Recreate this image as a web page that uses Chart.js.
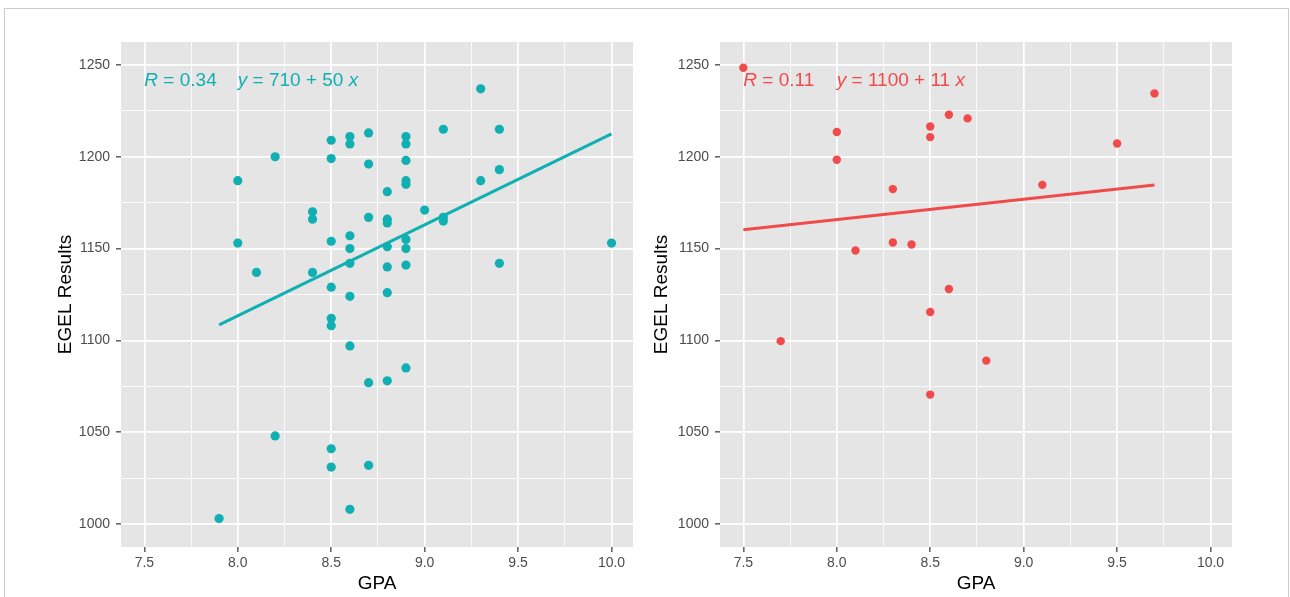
<!DOCTYPE html>
<html>
<head>
<meta charset="utf-8">
<title>GPA vs EGEL</title>
<script src="https://cdn.jsdelivr.net/npm/chart.js@4.4.1/dist/chart.umd.min.js"></script>
<style>
  html, body { margin: 0; padding: 0; background: #fff; }
  #page { position: relative; width: 1290px; height: 597px; overflow: hidden; }
  #frame { position: absolute; left: 4px; top: 8px; width: 1285px; height: 640px; border: 1px solid #cccccc; box-sizing: border-box; }
  .panel { position: absolute; top: 0; width: 645px; height: 597px; }
</style>
</head>
<body>
<div id="page">
  <div id="frame"></div>
  <div class="panel" style="left:0"><canvas id="chartLeft" width="645" height="597"></canvas></div>
  <div class="panel" style="left:645px"><canvas id="chartRight" width="645" height="597"></canvas></div>
</div>
<script>
// axis breaks
const xMajor = [7.5, 8.0, 8.5, 9.0, 9.5, 10.0];
const xMinor = [7.75, 8.25, 8.75, 9.25, 9.75];
const yMajor = [1000, 1050, 1100, 1150, 1200, 1250];
const yMinor = [1025, 1075, 1125, 1175, 1225];

// left panel (teal)
const leftGpa = [
  7.9,
  8.0, 8.0,
  8.1,
  8.2, 8.2,
  8.4, 8.4, 8.4,
  8.5, 8.5, 8.5, 8.5, 8.5, 8.5, 8.5, 8.5,
  8.6, 8.6, 8.6, 8.6, 8.6, 8.6, 8.6, 8.6,
  8.7, 8.7, 8.7, 8.7, 8.7,
  8.8, 8.8, 8.8, 8.8, 8.8, 8.8, 8.8,
  8.9, 8.9, 8.9, 8.9, 8.9, 8.9, 8.9, 8.9, 8.9,
  9.0,
  9.1, 9.1, 9.1,
  9.3, 9.3,
  9.4, 9.4, 9.4,
  10.0
];
const leftEgel = [
  1003,
  1187, 1153,
  1137,
  1200, 1048,
  1170, 1166, 1137,
  1209, 1199, 1154, 1129, 1112, 1108, 1041, 1031,
  1211, 1207, 1157, 1150, 1142, 1124, 1097, 1008,
  1213, 1196, 1167, 1077, 1032,
  1181, 1166, 1164, 1151, 1140, 1126, 1078,
  1211, 1207, 1198, 1187, 1185, 1155, 1150, 1141, 1085,
  1171,
  1215, 1167, 1165,
  1237, 1187,
  1215, 1193, 1142,
  1153
];
const leftFitX = [7.9, 10.0];
const leftFitY = [1108.5, 1212.5];
const leftStats = { r: '0.34', a: '710', b: '50' };

// right panel (red)
const rightGpa = [7.5, 7.7, 8.0, 8.0, 8.1, 8.3, 8.3, 8.4, 8.5, 8.5, 8.5, 8.5, 8.6, 8.6, 8.7, 8.8, 9.1, 9.5, 9.7];
const rightEgel = [1248.5, 1099.6, 1213.5, 1198.4, 1149, 1182.4, 1153.3, 1152.2, 1216.5, 1210.7, 1115.5, 1070.5, 1222.9, 1128, 1220.9, 1089, 1184.7, 1207.2, 1234.5];
const rightFitX = [7.5, 9.7];
const rightFitY = [1160.2, 1184.6];
const rightStats = { r: '0.11', a: '1100', b: '11' };

const TEAL = '#10afb2';
const RED = '#f04a4b';
const FONT = '"Liberation Sans", Arial, sans-serif';

const zip = (xs, ys) => xs.map((x, i) => ({ x, y: ys[i] }));

const panelBg = {
  id: 'panelBg',
  beforeDraw(chart) {
    const { ctx, chartArea: a } = chart;
    ctx.save();
    ctx.fillStyle = '#e5e5e5';
    ctx.fillRect(a.left, a.top, a.right - a.left, a.bottom - a.top);
    ctx.restore();
  }
};

// "R = .." and "y = a + b x" labels, italic symbols like plotmath
const corLabel = {
  id: 'corLabel',
  afterDatasetsDraw(chart, args, opts) {
    const { ctx, scales: { x, y } } = chart;
    const base = y.getPixelForValue(opts.baseline);
    ctx.save();
    ctx.fillStyle = opts.color;
    ctx.textBaseline = 'alphabetic';
    const drawParts = (parts, px) => {
      for (const [text, italic] of parts) {
        ctx.font = `${italic ? 'italic ' : ''}19px ${FONT}`;
        ctx.fillText(text, px, base);
        px += ctx.measureText(text).width;
      }
    };
    drawParts([['R', true], [' = ' + opts.stats.r, false]], x.getPixelForValue(opts.rAt));
    drawParts([['y', true], [` = ${opts.stats.a} + ${opts.stats.b} `, false], ['x', true]], x.getPixelForValue(opts.eqAt));
    ctx.restore();
  }
};

function gridOpts(major) {
  return {
    color: '#ffffff',
    lineWidth: c => major.includes(c.tick.value) ? 1.7 : 0.8,
    drawTicks: true,
    tickLength: 5,
    tickWidth: 1.2,
    tickColor: c => major.includes(c.tick.value) ? '#333333' : 'rgba(0,0,0,0)'
  };
}

function mkPanel(canvasId, gpa, egel, fitX, fitY, stats, color, dotRadius, yWidth, yTitlePad, rightPad) {
  new Chart(document.getElementById(canvasId), {
    type: 'scatter',
    data: {
      datasets: [
        {
          type: 'line',
          data: zip(fitX, fitY),
          borderColor: color,
          borderWidth: 3,
          pointRadius: 0,
          fill: false,
          order: 0
        },
        {
          data: zip(gpa, egel),
          backgroundColor: color,
          borderWidth: 0,
          pointRadius: dotRadius,
          order: 1
        }
      ]
    },
    options: {
      responsive: false,
      animation: false,
      layout: { padding: { top: 42, right: rightPad, left: 0, bottom: 0 } },
      scales: {
        x: {
          type: 'linear',
          min: 7.375,
          max: 10.115,
          afterBuildTicks: s => { s.ticks = [...xMajor, ...xMinor].sort((a, b) => a - b).map(v => ({ value: v })); },
          afterFit: s => { s.height = 50; },
          grid: gridOpts(xMajor),
          border: { display: false },
          ticks: {
            autoSkip: false,
            maxRotation: 0,
            padding: 3,
            color: '#4d4d4d',
            font: { family: FONT, size: 14 },
            callback: v => xMajor.includes(v) ? v.toFixed(1) : ''
          },
          title: {
            display: true,
            text: 'GPA',
            color: '#000000',
            font: { family: FONT, size: 19 },
            padding: { top: 0, bottom: 2 }
          }
        },
        y: {
          type: 'linear',
          min: 987.5,
          max: 1262.5,
          afterBuildTicks: s => { s.ticks = [...yMajor, ...yMinor].sort((a, b) => a - b).map(v => ({ value: v })); },
          afterFit: s => { s.width = yWidth; },
          grid: gridOpts(yMajor),
          border: { display: false },
          ticks: {
            autoSkip: false,
            padding: 6,
            color: '#4d4d4d',
            font: { family: FONT, size: 14 },
            callback: v => yMajor.includes(v) ? String(v) : ''
          },
          title: {
            display: true,
            text: 'EGEL Results',
            color: '#000000',
            font: { family: FONT, size: 19 },
            padding: { top: yTitlePad, bottom: 0 }
          }
        }
      },
      plugins: {
        legend: { display: false },
        tooltip: { enabled: false },
        corLabel: { color: color, stats: stats, baseline: 1238.3, rAt: 7.5, eqAt: 8.0 }
      }
    },
    plugins: [panelBg, corLabel]
  });
}

mkPanel('chartLeft', leftGpa, leftEgel, leftFitX, leftFitY, leftStats, TEAL, 4.6, 121, 54.5, 12);
mkPanel('chartRight', rightGpa, rightEgel, rightFitX, rightFitY, rightStats, RED, 4.2, 75, 5.5, 58);
</script>
</body>
</html>
